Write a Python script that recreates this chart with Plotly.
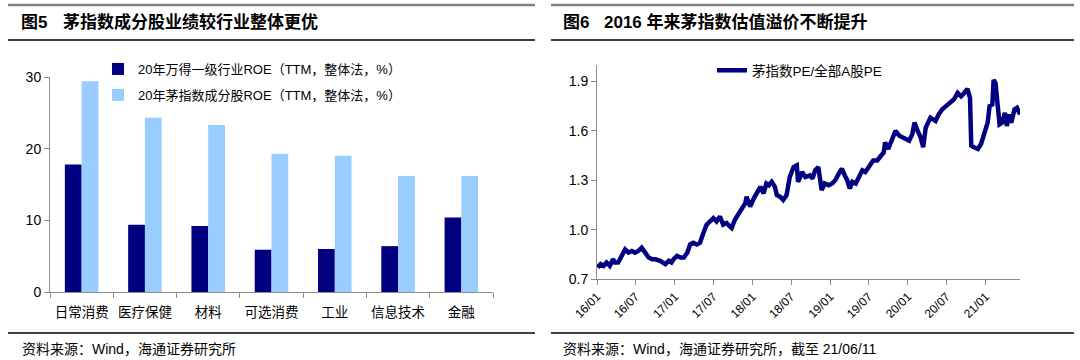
import plotly.graph_objects as go

# ---------------- data ----------------
categories = ["日常消费", "医疗保健", "材料", "可选消费", "工业", "信息技术", "金融"]
roe_industry = [17.8, 9.4, 9.2, 5.9, 6.0, 6.4, 10.4]
roe_mao = [29.4, 24.3, 23.3, 19.3, 19.0, 16.2, 16.2]
bar_names = ["20年万得一级行业ROE（TTM，整体法，%）", "20年茅指数成分股ROE（TTM，整体法，%）"]

pe_dates = [
    "2016-01-04", "2016-01-18", "2016-02-01", "2016-02-15", "2016-03-01", "2016-03-16", "2016-03-25",
    "2016-04-09", "2016-04-18", "2016-04-26", "2016-05-12", "2016-05-28", "2016-06-13", "2016-06-28",
    "2016-07-13", "2016-07-29", "2016-08-15", "2016-08-31", "2016-09-16", "2016-10-01", "2016-10-24",
    "2016-11-09", "2016-11-17", "2016-12-03", "2016-12-16", "2016-12-26",
    "2017-01-11", "2017-01-28", "2017-02-12", "2017-02-28", "2017-03-14", "2017-03-29", "2017-04-14",
    "2017-04-29", "2017-05-07", "2017-05-15", "2017-05-30", "2017-06-15", "2017-07-01", "2017-07-16",
    "2017-08-01", "2017-08-16", "2017-09-01", "2017-09-16", "2017-09-25", "2017-10-10", "2017-10-25",
    "2017-11-13", "2017-11-28", "2017-12-04", "2017-12-21",
    "2018-01-07", "2018-01-22", "2018-02-07", "2018-02-22", "2018-03-07", "2018-03-19", "2018-04-01",
    "2018-04-16", "2018-04-25", "2018-05-10", "2018-05-25", "2018-06-10", "2018-06-25", "2018-07-13",
    "2018-07-28", "2018-08-03", "2018-08-22", "2018-09-06", "2018-09-28", "2018-10-10", "2018-10-22",
    "2018-11-06", "2018-11-22", "2018-12-06", "2018-12-25",
    "2019-01-10", "2019-01-25", "2019-02-10", "2019-02-25", "2019-03-10", "2019-03-22", "2019-04-03",
    "2019-04-15", "2019-05-01", "2019-05-19", "2019-06-01", "2019-06-15", "2019-07-06", "2019-07-22",
    "2019-08-10", "2019-08-25", "2019-09-10", "2019-09-16", "2019-10-01", "2019-10-10", "2019-10-19",
    "2019-11-04", "2019-11-22", "2019-12-07", "2019-12-22",
    "2020-01-07", "2020-01-22", "2020-02-01", "2020-02-16", "2020-03-01", "2020-03-13", "2020-03-25",
    "2020-04-16", "2020-05-10", "2020-05-25", "2020-06-10", "2020-06-28", "2020-07-13", "2020-08-04",
    "2020-08-22", "2020-09-07", "2020-09-22", "2020-10-07", "2020-10-19", "2020-10-25", "2020-11-07",
    "2020-11-25", "2020-12-10", "2020-12-25",
    "2021-01-10", "2021-01-19", "2021-02-01", "2021-02-07", "2021-02-16", "2021-02-25", "2021-03-07",
    "2021-03-19", "2021-04-01", "2021-04-10", "2021-04-22", "2021-05-01", "2021-05-16", "2021-05-28",
    "2021-06-11",
]
pe_ratio = [
    0.77, 0.79, 0.78, 0.80, 0.78, 0.82, 0.80,
    0.80, 0.82, 0.84, 0.88, 0.86, 0.87, 0.86,
    0.87, 0.89, 0.86, 0.83, 0.82, 0.82, 0.81,
    0.80, 0.79, 0.81, 0.80, 0.82,
    0.84, 0.83, 0.83, 0.86, 0.91, 0.92, 0.91,
    0.92, 0.96, 0.98, 1.03, 1.05, 1.07, 1.05,
    1.08, 1.03, 1.04, 1.02, 1.01, 1.06, 1.09,
    1.13, 1.16, 1.20, 1.14,
    1.19, 1.23, 1.26, 1.22, 1.28, 1.27, 1.29,
    1.26, 1.21, 1.20, 1.18, 1.21, 1.32, 1.38,
    1.39, 1.29, 1.35, 1.32, 1.33, 1.31, 1.36,
    1.38, 1.24, 1.28, 1.27,
    1.28, 1.30, 1.34, 1.37, 1.33, 1.30, 1.25,
    1.29, 1.28, 1.33, 1.36, 1.35, 1.39, 1.42,
    1.42, 1.44, 1.47, 1.53, 1.49, 1.52, 1.55,
    1.60, 1.57, 1.56, 1.55,
    1.54, 1.58, 1.65, 1.60, 1.56, 1.50, 1.62,
    1.68, 1.66, 1.70, 1.73, 1.75, 1.77, 1.79,
    1.83, 1.81, 1.83, 1.855, 1.80, 1.51, 1.50,
    1.49, 1.52, 1.59,
    1.65, 1.75, 1.76, 1.91, 1.89, 1.77, 1.64,
    1.65, 1.71, 1.63, 1.70, 1.65, 1.73, 1.74,
    1.70,
]
pe_name = "茅指数PE/全部A股PE"
pe_ticks_y = [0.7, 1.0, 1.3, 1.6, 1.9]

title_left = ("图5", "茅指数成分股业绩较行业整体更优")
title_right = ("图6", "2016 年来茅指数估值溢价不断提升")
source_left = "资料来源：Wind，海通证券研究所"
source_right = "资料来源：Wind，海通证券研究所，截至 21/06/11"

# ---------------- figure ----------------
W, H = 1080, 360
FONT = "Liberation Sans, Arial, Noto Sans CJK SC, sans-serif"
AXC = "#8c8c8c"


def px(x):
    return x / W


def py(y):
    return 1 - y / H


fig = go.Figure()

fig.add_trace(go.Bar(x=categories, y=roe_industry, name=bar_names[0],
                     marker=dict(color="#000080", line=dict(width=0)),
                     xaxis="x", yaxis="y", legend="legend"))
fig.add_trace(go.Bar(x=categories, y=roe_mao, name=bar_names[1],
                     marker=dict(color="#99CCFF", line=dict(width=0)),
                     xaxis="x", yaxis="y", legend="legend2"))
fig.add_trace(go.Scatter(x=pe_dates, y=pe_ratio, name=pe_name, mode="lines",
                         line=dict(color="#000080", width=4.5),
                         xaxis="x2", yaxis="y2", legend="legend3"))

shapes = []
for (x0, x1) in [(8, 535), (551, 1074)]:
    shapes.append(dict(type="line", xref="paper", yref="paper", x0=px(x0), x1=px(x1),
                       y0=py(5), y1=py(5), line=dict(color="#7f7f7f", width=2.5)))
    shapes.append(dict(type="line", xref="paper", yref="paper", x0=px(x0), x1=px(x1),
                       y0=py(40), y1=py(40), line=dict(color="#000000", width=1.3)))
    shapes.append(dict(type="line", xref="paper", yref="paper", x0=px(x0), x1=px(x1),
                       y0=py(333), y1=py(333), line=dict(color="#000000", width=1.3)))

annotations = []


def add_text(x, y, text, size, bold=False):
    annotations.append(dict(x=px(x), y=py(y), xref="paper", yref="paper",
                            xanchor="left", yanchor="middle", showarrow=False,
                            text=("<b>%s</b>" % text) if bold else text,
                            font=dict(family=FONT, size=size, color="#000000")))


add_text(19, 22, title_left[0], 17, True)
add_text(61, 22, title_left[1], 17, True)
add_text(561, 22, title_right[0], 17, True)
add_text(602, 22, title_right[1], 17, True)
add_text(20, 349, source_left, 14)
add_text(561, 349, source_right, 14)

legend_font = dict(family=FONT, size=13, color="#000000")

fig.update_layout(
    width=W, height=H, autosize=False,
    margin=dict(l=0, r=0, t=0, b=0, pad=0, autoexpand=False),
    paper_bgcolor="white", plot_bgcolor="white",
    barmode="group", bargap=0.47, bargroupgap=0,
    showlegend=True,
    font=dict(family=FONT, size=13, color="#000000"),
    shapes=shapes, annotations=annotations,
    xaxis=dict(domain=[px(50), px(493)], type="category", showline=True, linecolor=AXC,
               linewidth=1, ticks="outside", tickson="boundaries", ticklen=5, tickcolor=AXC,
               tickangle=0, automargin=False, ticklabelstandoff=8,
               showgrid=False, zeroline=False, tickfont=dict(family=FONT, size=13.5, color="#000000"),
               anchor="y"),
    yaxis=dict(domain=[py(292), py(77)], range=[0, 30], dtick=10, showline=True, linecolor=AXC,
               linewidth=1, ticks="outside", ticklen=5, tickcolor=AXC, showgrid=False,
               automargin=False,
               zeroline=False, tickfont=dict(family=FONT, size=14, color="#000000"), anchor="x"),
    xaxis2=dict(domain=[px(597), px(1020)], type="date", range=["2016-01-01", "2021-06-11"],
                tick0="2016-01-01", dtick="M6", tickformat="%y/%m", tickangle=-45,
                showline=True, linecolor=AXC, linewidth=1, ticks="outside", ticklen=5,
                tickcolor=AXC, showgrid=False, zeroline=False, automargin=False,
                tickfont=dict(family=FONT, size=12, color="#000000"), anchor="y2"),
    yaxis2=dict(domain=[py(279), py(65)], range=[0.7, 2.0], tickvals=pe_ticks_y, tickformat=".1f",
                showline=True, linecolor=AXC, linewidth=1, ticks="outside", ticklen=5,
                tickcolor=AXC, showgrid=False, zeroline=False, automargin=False,
                tickfont=dict(family=FONT, size=14, color="#000000"), anchor="x2"),
    legend=dict(x=px(98), y=py(54), xanchor="left", yanchor="top", bgcolor="rgba(0,0,0,0)",
                font=legend_font, itemwidth=30, borderwidth=0),
    legend2=dict(x=px(98), y=py(80), xanchor="left", yanchor="top", bgcolor="rgba(0,0,0,0)",
                 font=legend_font, itemwidth=30, borderwidth=0),
    legend3=dict(x=px(712), y=py(55), xanchor="left", yanchor="top", bgcolor="rgba(0,0,0,0)",
                 font=dict(family=FONT, size=13.5, color="#000000"), itemwidth=30, borderwidth=0),
)

fig.write_html(
    "out.html",
    include_plotlyjs=True,
    config={"displayModeBar": False},
    post_script="document.body.style.margin='0';document.body.style.padding='0';",
)
